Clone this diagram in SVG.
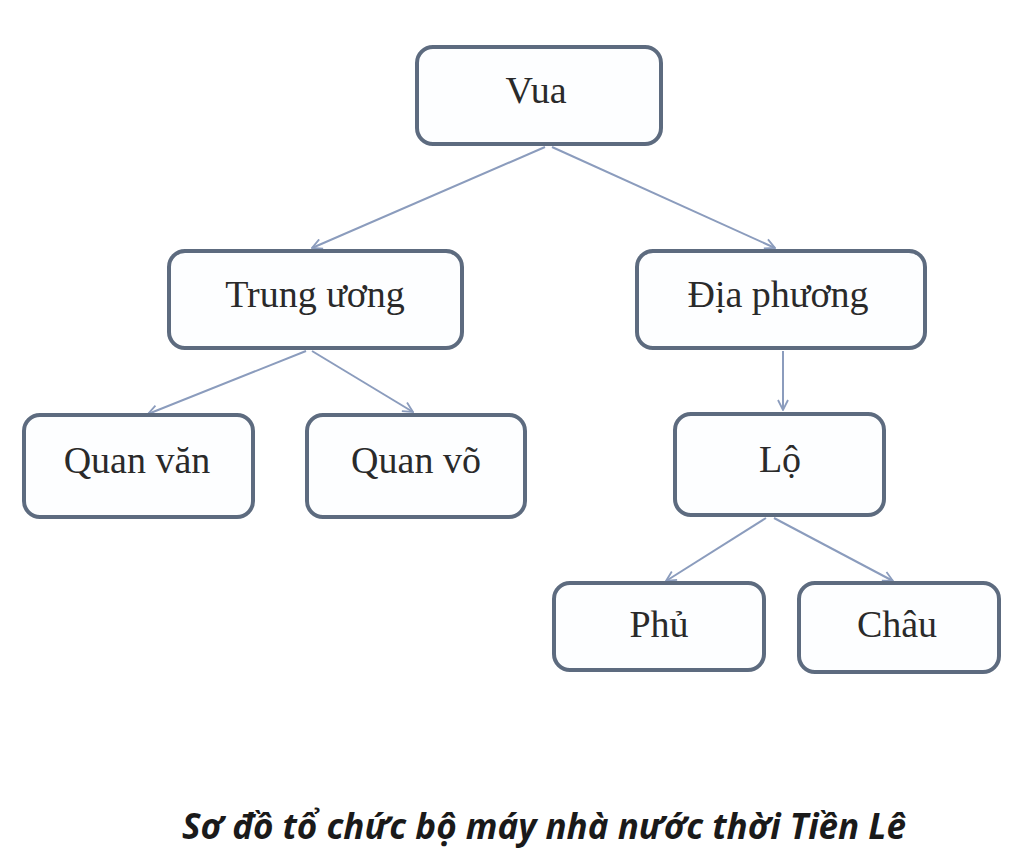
<svg xmlns="http://www.w3.org/2000/svg" width="1024" height="857" viewBox="0 0 1024 857">
<style>
.box{fill:#fdfeff;stroke:#5d6b7f;stroke-width:4}
.lbl{font-family:"Liberation Serif","DejaVu Serif",serif;font-size:38px;fill:#2a2a2a;text-anchor:middle;dominant-baseline:central}
.con{fill:none;stroke:#8b9cbd;stroke-width:2;marker-end:url(#arr)}
.cap{font-family:"Open Sans","Liberation Sans",sans-serif;font-size:35px;font-weight:bold;font-style:italic;fill:#1a1a1a;text-anchor:middle}
</style>
<defs>
<marker id="arr" viewBox="0 0 12 12" refX="11" refY="6" markerWidth="12" markerHeight="12" markerUnits="userSpaceOnUse" orient="auto">
<path d="M1,1 L11,6 L1,11" fill="none" stroke="#8b9cbd" stroke-width="1.8"/>
</marker>
</defs>
<rect width="1024" height="857" fill="#ffffff"/>
<g id="connectors">
<line class="con" x1="545" y1="147" x2="312" y2="248"/>
<line class="con" x1="552" y1="147" x2="775" y2="248"/>
<line class="con" x1="306" y1="351" x2="148" y2="414"/>
<line class="con" x1="312" y1="351" x2="413" y2="412"/>
<line class="con" x1="783" y1="351" x2="783" y2="410"/>
<line class="con" x1="766" y1="518" x2="666" y2="581"/>
<line class="con" x1="774" y1="518" x2="893" y2="581"/>
</g>
<g id="vua"><rect class="box" x="417" y="47" width="244" height="97" rx="16"/><text class="lbl" x="536" y="90">Vua</text></g>
<g id="trung-uong"><rect class="box" x="169" y="251" width="293" height="97" rx="16"/><text class="lbl" x="315" y="294">Trung ương</text></g>
<g id="dia-phuong"><rect class="box" x="637" y="251" width="288" height="97" rx="16"/><text class="lbl" x="778" y="294">Địa phương</text></g>
<g id="quan-van"><rect class="box" x="24" y="415" width="229" height="102" rx="16"/><text class="lbl" x="137" y="460">Quan văn</text></g>
<g id="quan-vo"><rect class="box" x="307" y="415" width="218" height="102" rx="16"/><text class="lbl" x="416" y="460">Quan võ</text></g>
<g id="lo"><rect class="box" x="675" y="414" width="209" height="101" rx="16"/><text class="lbl" x="780" y="459">Lộ</text></g>
<g id="phu"><rect class="box" x="554" y="583" width="210" height="87" rx="16"/><text class="lbl" x="659" y="624">Phủ</text></g>
<g id="chau"><rect class="box" x="799" y="583" width="200" height="89" rx="16"/><text class="lbl" x="897" y="624">Châu</text></g>
<text class="cap" x="544" y="839">Sơ đồ tổ chức bộ máy nhà nước thời Tiền Lê</text>
</svg>
